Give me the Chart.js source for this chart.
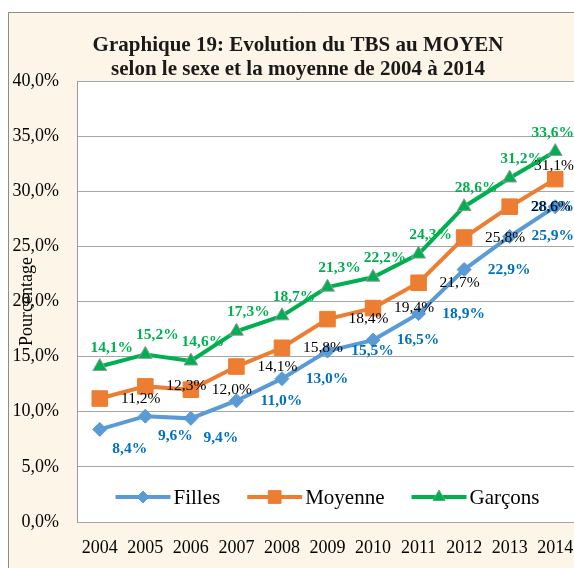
<!DOCTYPE html>
<html>
<head>
<meta charset="utf-8">
<script src="https://cdn.jsdelivr.net/npm/chart.js@4.4.1/dist/chart.umd.min.js"></script>
<style>
html, body { margin: 0; padding: 0; overflow: hidden; background: #fff; }
#wrap { position: absolute; left: 0; top: 0; width: 590px; height: 568px; }
</style>
</head>
<body>
<div id="wrap"><canvas id="chart" width="590" height="568"></canvas></div>
<script>
// donnees
const years = ['2004', '2005', '2006', '2007', '2008', '2009', '2010', '2011', '2012', '2013', '2014'];
const filles = [8.4, 9.6, 9.4, 11.0, 13.0, 15.5, 16.5, 18.9, 22.9, 25.9, 28.6];
const moyenne = [11.2, 12.3, 12.0, 14.1, 15.8, 18.4, 19.4, 21.7, 25.8, 28.6, 31.1];
const garcons = [14.1, 15.2, 14.6, 17.3, 18.7, 21.3, 22.2, 24.3, 28.6, 31.2, 33.6];
const titleLines = ['Graphique 19: Evolution du TBS au MOYEN', 'selon le sexe et la moyenne de 2004 à 2014'];
const yMin = 0, yMax = 40, yStep = 5;

const serif = "'Liberation Serif', 'Times New Roman', serif";
const blue = '#5B9BD5', orange = '#ED7D31', green = '#00B050';
const viewWidth = 574;

function fmt(v) {
    return v.toFixed(1).replace('.', ',') + '%';
}

// fond creme, bordure, zone de trace blanche et titre
const background = {
    id: 'background',
    beforeDraw(chart) {
        const ctx = chart.ctx, a = chart.chartArea;
        ctx.save();
        ctx.fillStyle = '#fff';
        ctx.fillRect(0, 0, chart.width, chart.height);
        ctx.fillStyle = '#FDF5E7';
        ctx.fillRect(8, 12, chart.width - 8, chart.height - 12);
        ctx.strokeStyle = '#8c8c8c';
        ctx.lineWidth = 1;
        ctx.beginPath();
        ctx.moveTo(8.5, chart.height);
        ctx.lineTo(8.5, 12.5);
        ctx.lineTo(chart.width, 12.5);
        ctx.stroke();
        ctx.fillStyle = '#fff';
        ctx.fillRect(a.left, a.top, a.right - a.left, a.bottom - a.top);
        //Titre sur deux lignes
        ctx.fillStyle = '#1a1a1a';
        ctx.font = 'bold 21px ' + serif;
        ctx.textAlign = 'center';
        ctx.textBaseline = 'middle';
        titleLines.forEach((t, k) => ctx.fillText(t, 298, 46 + k * 24));
        ctx.restore();
    }
};

// etiquettes de valeurs, position selon la serie
function labelOffset(dsIndex, i) {
    if (dsIndex === 0) return i < 3 ? [30, 20] : [45, 0];
    if (dsIndex === 1) return [41, 0];
    return [12, -19];
}
const valueLabels = {
    id: 'valueLabels',
    afterDatasetsDraw(chart) {
        const ctx = chart.ctx;
        ctx.save();
        ctx.textAlign = 'center';
        ctx.textBaseline = 'middle';
        chart.data.datasets.forEach((ds, d) => {
            const meta = chart.getDatasetMeta(d);
            ctx.font = (ds.labelBold ? 'bold ' : '') + '15.5px ' + serif;
            ctx.fillStyle = ds.labelColor;
            meta.data.forEach((pt, i) => {
                const txt = fmt(ds.data[i]);
                const w = ctx.measureText(txt).width;
                const off = labelOffset(d, i);
                let x = pt.x + off[0], y = pt.y + off[1];
                if (x + w / 2 > viewWidth) {
                    x = viewWidth - w / 2;
                    if (d === 1) y -= 13;
                }
                ctx.fillText(txt, x, y);
            });
        });
        ctx.restore();
    }
};

// legende dessinee dans le bas de la zone de trace
const innerLegend = {
    id: 'innerLegend',
    afterDatasetsDraw(chart) {
        const ctx = chart.ctx, a = chart.chartArea;
        const lineLen = 55, gap = 3, itemGap = 27;
        const y = a.bottom - 25;
        ctx.save();
        ctx.font = '21px ' + serif;
        ctx.textBaseline = 'middle';
        const items = chart.data.datasets.map(ds => ({ ds, w: ctx.measureText(ds.label).width }));
        let total = 0;
        items.forEach((it, k) => { total += lineLen + gap + it.w + (k ? itemGap : 0); });
        let x = (a.left + a.right) / 2 - total / 2;
        items.forEach(it => {
            const ds = it.ds;
            ctx.strokeStyle = ds.borderColor;
            ctx.lineWidth = 4;
            ctx.beginPath();
            ctx.moveTo(x, y);
            ctx.lineTo(x + lineLen, y);
            ctx.stroke();
            ctx.fillStyle = ds.pointBackgroundColor;
            ctx.strokeStyle = ds.legendBorderColor;
            ctx.lineWidth = 1;
            Chart.helpers.drawPoint(ctx, {
                pointStyle: ds.pointStyle,
                radius: ds.legendRadius,
                rotation: 0,
                borderWidth: 1
            }, x + lineLen / 2, y);
            ctx.fillStyle = '#000';
            ctx.fillText(ds.label, x + lineLen + gap, y + 1);
            x += lineLen + gap + it.w + itemGap;
        });
        ctx.restore();
    }
};

new Chart(document.getElementById('chart'), {
    type: 'line',
    data: {
        labels: years,
        datasets: [{
            label: 'Filles',
            data: filles,
            borderColor: blue,
            borderWidth: 4,
            pointStyle: 'rectRot',
            pointRadius: 7,
            pointBackgroundColor: blue,
            pointBorderColor: blue,
            pointBorderWidth: 1,
            legendRadius: 6,
            legendBorderColor: blue,
            labelColor: '#0070C0',
            labelBold: true
        }, {
            label: 'Moyenne',
            data: moyenne,
            borderColor: orange,
            borderWidth: 4,
            pointStyle: 'rect',
            pointRadius: 11,
            pointBackgroundColor: orange,
            pointBorderColor: orange,
            pointBorderWidth: 1,
            legendRadius: 9,
            legendBorderColor: orange,
            labelColor: '#000',
            labelBold: false
        }, {
            label: 'Garçons',
            data: garcons,
            borderColor: green,
            borderWidth: 4,
            pointStyle: 'triangle',
            pointRadius: 8,
            pointBackgroundColor: green,
            pointBorderColor: '#9a9a9a',
            pointBorderWidth: 1,
            legendRadius: 7,
            legendBorderColor: '#5aa877',
            labelColor: green,
            labelBold: true
        }]
    },
    options: {
        responsive: false,
        animation: false,
        layout: { padding: { left: 0, right: 12, top: 81, bottom: 0 } },
        plugins: {
            legend: { display: false },
            tooltip: { enabled: false },
            title: { display: false }
        },
        scales: {
            x: {
                offset: true,
                grid: { display: false, drawTicks: false },
                border: { display: false },
                ticks: { font: { family: serif, size: 18 }, color: '#000', padding: 15, maxRotation: 0, autoSkip: false },
                afterFit(scale) { scale.height = 46; }
            },
            y: {
                min: yMin,
                max: yMax,
                grid: { color: '#a6a6a6', lineWidth: 1, drawTicks: false },
                border: { display: true, color: '#9a9a9a' },
                ticks: {
                    stepSize: yStep,
                    font: { family: serif, size: 18 },
                    color: '#000',
                    padding: 18,
                    callback: v => fmt(v)
                },
                title: {
                    display: true,
                    text: 'Pourcentage',
                    font: { family: serif, size: 18 },
                    color: '#000',
                    padding: { top: 16, bottom: 0 }
                },
                afterFit(scale) { scale.width = 77; }
            }
        }
    },
    plugins: [background, valueLabels, innerLegend]
});
</script>
</body>
</html>
